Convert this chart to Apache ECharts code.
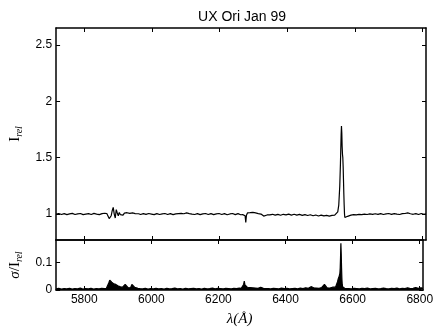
<!DOCTYPE html>
<html><head><meta charset="utf-8">
<script src="https://cdn.jsdelivr.net/npm/echarts@6/dist/echarts.min.js"></script>
<style>html,body{margin:0;padding:0;background:#fff}#c{width:436px;height:334px}</style>
</head><body><div id="c"></div>
<script>
const title = 'UX Ori Jan 99';
const xTicks = [5800, 6000, 6200, 6400, 6600, 6800];
const yTicksTop = [1, 1.5, 2, 2.5];
const yTicksBottom = [0, 0.1];

const wave = [
  5716,5724,5732,5740,5748,5756,5764,5772,5780,5788,5796,5804,5812,5820,5828,5836,5844,5852,5860,
  5866,5870,5873,5876,5879,5882,5885,5888,5891,5894,5897,5900,5903,5906,5910,5914,5918,5922,5926,5930,5934,5938,5942,5946,5950,5955,5960,
  5966,5974,5982,5990,5998,6006,6014,6022,6030,6038,6046,6054,6062,6070,6078,6086,6094,6102,6110,6118,6126,6134,6142,6150,6158,6166,6174,6182,6190,6198,6206,6214,6222,6230,6238,6246,6254,6262,
  6268,6272,6275,6277,6279,6282,6286,6290,6294,6298,6302,6306,6310,6314,6318,6322,6326,6330,6334,6340,
  6348,6356,6364,6372,6380,6388,6396,6404,6412,6420,6428,6436,6444,6452,6460,6468,6476,6484,6492,6500,6508,6516,6524,6532,6540,
  6545,6549,6552,6555,6557,6559,6560,6561,6562,6563,6564,6565,6566,6567,6568,6569,6570,6572,6575,6578,6582,
  6588,6596,6604,6612,6620,6628,6636,6644,6652,6660,6668,6676,6684,6692,6700,6708,6716,6724,6732,6740,6748,6756,6764,6772,6780,6788,6796,6804,6810
];
const flux = [
  1.000,1.005,0.996,1.004,0.995,1.001,1.006,0.996,1.001,1.005,0.995,1.000,1.004,0.996,1.006,1.000,0.995,1.004,1.007,
  1.005,0.990,0.960,0.945,0.985,1.030,1.060,1.000,0.965,1.040,1.010,0.985,1.015,0.995,1.010,0.990,1.008,0.992,1.012,0.995,1.006,0.990,1.010,0.994,1.004,0.997,1.003,
  0.996,1.004,0.997,1.005,1.000,0.995,1.004,0.996,1.001,1.005,0.996,1.004,0.995,1.001,1.004,1.006,1.003,1.010,1.004,0.999,0.996,1.004,0.995,1.001,1.005,0.996,1.004,0.995,1.001,1.005,0.996,1.004,0.994,1.001,1.005,0.995,1.004,0.994,
  0.995,1.004,0.985,0.925,0.990,1.010,0.998,1.012,1.005,1.015,1.002,1.010,0.996,1.004,0.992,1.000,0.985,0.982,0.995,0.992,
  0.993,0.998,0.990,0.997,0.989,0.998,0.993,0.999,0.991,0.998,0.990,0.997,0.988,0.995,0.987,0.994,0.985,0.992,0.983,0.991,0.984,0.989,0.982,0.988,0.990,
  1.000,1.020,1.080,1.250,1.450,1.700,1.780,1.720,1.600,1.530,1.500,1.420,1.300,1.180,1.080,1.000,0.970,0.962,0.970,0.980,0.988,
  0.990,0.995,0.993,0.997,0.995,1.000,0.996,1.002,0.997,1.003,0.997,1.004,0.996,1.002,1.005,0.997,1.004,0.999,0.996,1.004,1.005,1.010,1.003,0.998,1.004,0.996,1.005,0.998,1.003
];
const sigma = [
  0.004,0.006,0.003,0.005,0.004,0.006,0.003,0.005,0.004,0.007,0.003,0.005,0.004,0.006,0.003,0.005,0.004,0.006,0.005,
  0.006,0.012,0.025,0.035,0.030,0.028,0.033,0.022,0.026,0.020,0.018,0.015,0.017,0.012,0.014,0.010,0.012,0.020,0.015,0.009,0.012,0.008,0.020,0.016,0.010,0.007,0.006,
  0.005,0.004,0.006,0.003,0.005,0.004,0.006,0.004,0.005,0.003,0.006,0.004,0.005,0.007,0.004,0.005,0.003,0.006,0.004,0.005,0.006,0.004,0.005,0.003,0.006,0.004,0.005,0.007,0.004,0.006,0.005,0.004,0.006,0.005,0.004,0.006,0.005,0.007,
  0.006,0.010,0.020,0.032,0.018,0.012,0.010,0.014,0.009,0.012,0.008,0.010,0.007,0.009,0.006,0.008,0.010,0.007,0.006,0.005,
  0.005,0.004,0.006,0.005,0.004,0.007,0.005,0.006,0.004,0.005,0.006,0.004,0.007,0.005,0.008,0.006,0.012,0.008,0.007,0.006,0.009,0.020,0.008,0.007,0.010,
  0.008,0.010,0.015,0.030,0.040,0.045,0.050,0.055,0.060,0.080,0.120,0.168,0.130,0.080,0.040,0.020,0.012,0.008,0.006,0.005,0.004,
  0.005,0.004,0.006,0.005,0.004,0.006,0.005,0.007,0.004,0.005,0.006,0.004,0.005,0.007,0.005,0.004,0.006,0.005,0.007,0.004,0.006,0.005,0.008,0.005,0.006,0.009,0.006,0.008,0.006
];

const ink = '#000';
const font = 'Liberation Sans';
const lineW = 1.5;

function xAx(grid, pos, labels) {
  return {
    type: 'value', gridIndex: grid, position: pos, min: 5716, max: 6810,
    axisLine: {show: true, onZero: false, lineStyle: {color: ink, width: lineW}},
    axisTick: {show: true, inside: true, length: 4, customValues: xTicks, lineStyle: {color: ink, width: 1}},
    axisLabel: {show: labels, customValues: xTicks, color: ink, fontFamily: font, fontSize: 12, margin: 4,
      formatter: v => String(v)},
    splitLine: {show: false}
  };
}
function yAx(grid, pos, labels, min, max, ticks, name) {
  return {
    type: 'value', gridIndex: grid, position: pos, min: min, max: max,
    axisLine: {show: true, onZero: false, lineStyle: {color: ink, width: lineW}},
    axisTick: {show: true, inside: true, length: 4, customValues: ticks, lineStyle: {color: ink, width: 1}},
    axisLabel: {show: labels, customValues: ticks, color: ink, fontFamily: font, fontSize: 12, margin: 4,
      formatter: v => String(+v.toFixed(3))},
    splitLine: {show: false},
    name: name || '', nameLocation: 'middle', nameRotate: 90, nameGap: name ? 28 : 0,
    nameTextStyle: {
      color: ink,
      rich: {
        a: {fontFamily: 'Liberation Serif', fontSize: 15, color: ink, lineHeight: 18, verticalAlign: 'middle'},
        s: {fontFamily: 'Liberation Serif', fontSize: 15, fontStyle: 'italic', color: ink, lineHeight: 18, verticalAlign: 'middle'},
        b: {fontFamily: 'Liberation Serif', fontSize: 10, fontStyle: 'italic', color: ink, lineHeight: 18, verticalAlign: 'bottom'}
      }
    }
  };
}

const chart = echarts.init(document.getElementById('c'), null, {renderer: 'canvas'});
chart.setOption({
  animation: false,
  backgroundColor: '#fff',
  title: {text: title, left: 237, textAlign: 'center', top: 5,
    textStyle: {fontFamily: font, fontSize: 14, fontWeight: 'normal', color: ink}},
  grid: [
    {left: 48, right: 10, top: 28, height: 212},
    {left: 48, right: 10, top: 240, height: 50}
  ],
  xAxis: [
    xAx(0, 'bottom', false), xAx(0, 'top', false),
    Object.assign(xAx(1, 'bottom', true), {
      name: 'λ(Å)', nameLocation: 'middle', nameGap: 22,
      nameTextStyle: {fontFamily: 'Liberation Serif', fontSize: 15, fontStyle: 'italic', color: ink}
    }),
    xAx(1, 'top', false)
  ],
  yAxis: [
    yAx(0, 'left', true, 0.77, 2.65, yTicksTop, '{a|I}{b|rel}'),
    yAx(0, 'right', false, 0.77, 2.65, yTicksTop),
    yAx(1, 'left', true, 0, 0.18, yTicksBottom, '{s|σ}{a|/I}{b|rel}'),
    yAx(1, 'right', false, 0, 0.18, yTicksBottom)
  ],
  series: [
    {type: 'line', xAxisIndex: 0, yAxisIndex: 0, showSymbol: false, silent: true,
      data: wave.map((w, i) => [w, flux[i]]), lineStyle: {color: ink, width: 1.2}},
    {type: 'line', xAxisIndex: 2, yAxisIndex: 2, showSymbol: false, silent: true,
      data: wave.map((w, i) => [w, sigma[i]]), lineStyle: {color: ink, width: 1.2},
      areaStyle: {color: ink, opacity: 1, origin: 'start'}}
  ]
});
</script></body></html>
